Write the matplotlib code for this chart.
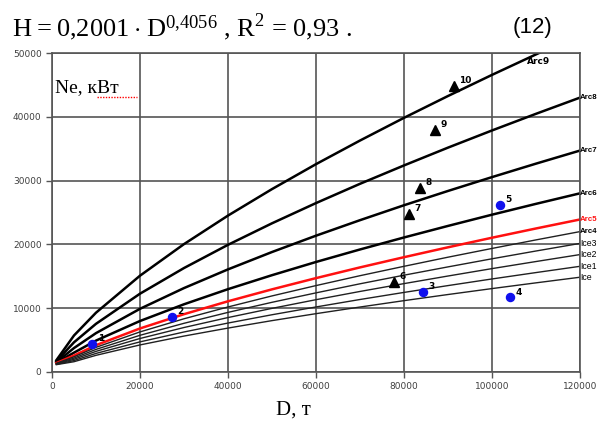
import matplotlib.pyplot as plt

plt.rcParams['mathtext.fontset'] = 'custom'
plt.rcParams['mathtext.rm'] = 'Liberation Serif'

# displacement D, t
D = [1000, 5000, 10000, 20000, 30000, 40000, 50000, 60000, 70000,
     80000, 90000, 100000, 110000, 120000]

# engine power curves by ice class, kW
arc9 = [1850, 5720, 9290, 15090, 20040, 24510, 28660, 32570, 36270, 39830, 43250, 46560, 49770, 52900]
arc8 = [1700, 4650, 7550, 12270, 16290, 19930, 23300, 26470, 29490, 32370, 35160, 37850, 40460, 43000]
arc7 = [1550, 3750, 6090, 9900, 13150, 16080, 18800, 21360, 23790, 26130, 28370, 30540, 32650, 34700]
arc6 = [1450, 3030, 4920, 7990, 10610, 12980, 15170, 17240, 19200, 21080, 22890, 24650, 26350, 28000]
arc5 = [1400, 2580, 4200, 6820, 9060, 11080, 12950, 14710, 16390, 17990, 19540, 21040, 22490, 23900]
arc4 = [1350, 2380, 3860, 6280, 8340, 10190, 11920, 13540, 15090, 16560, 17990, 19360, 20700, 22000]
ice3 = [1300, 2180, 3540, 5750, 7630, 9340, 10920, 12400, 13820, 15170, 16470, 17740, 18960, 20150]
ice2 = [1250, 1990, 3230, 5250, 6970, 8530, 9970, 11330, 12620, 13850, 15040, 16200, 17310, 18400]
ice1 = [1200, 1790, 2910, 4720, 6270, 7670, 8970, 10190, 11360, 12470, 13540, 14580, 15580, 16560]
ice0 = [1150, 1610, 2610, 4240, 5630, 6880, 8050, 9140, 10180, 11180, 12140, 13070, 13970, 14850]

curves = [arc9, arc8, arc7, arc6, arc5, arc4, ice3, ice2, ice1, ice0]
names = ['Arc9', 'Arc8', 'Arc7', 'Arc6', 'Arc5', 'Arc4', 'Ice3', 'Ice2', 'Ice1', 'Ice']

# ships: blue dots and triangles
dot_ids = ['1', '2', '3', '4', '5']
dot_D = [9100, 27300, 84300, 104100, 101800]
dot_N = [4400, 8600, 12500, 11700, 26250]
tri_ids = ['6', '7', '8', '9', '10']
tri_D = [77700, 81100, 83600, 87000, 91300]
tri_N = [14100, 24800, 28900, 37950, 44800]

fig = plt.figure(figsize=(5.99, 4.23), dpi=100)
ax = fig.add_axes([0.0868, 0.1206, 0.8812, 0.7541])

for y, name in zip(curves, names):
    if name == 'Arc5':
        ax.plot(D, y, color='#ff1010', lw=1.8)
    elif name.startswith('Arc') and name != 'Arc4':
        ax.plot(D, y, color='black', lw=1.8)
    else:
        ax.plot(D, y, color='#202020', lw=1.0)
    if name == 'Arc9':
        ax.text(108000, 48700, name, fontsize=6.5, fontweight='bold', va='center')
    elif name.startswith('Arc'):
        ax.text(120100, y[-1], name, fontsize=5.7, fontweight='bold', va='center',
                family='Liberation Sans',
                color='#ff1010' if name == 'Arc5' else 'black', clip_on=False)
    else:
        ax.text(120100, y[-1], name, fontsize=6.3, va='center',
                family='Liberation Sans', clip_on=False)

ax.plot(dot_D, dot_N, 'o', color='#1010ee', ms=5.8, ls='none')
ax.plot(tri_D, tri_N, '^', color='black', ms=7.5, ls='none')
for i, x, y in zip(dot_ids + tri_ids, dot_D + tri_D, dot_N + tri_N):
    ax.annotate(i, (x, y), xytext=(4, 2), textcoords='offset points',
                fontsize=6.5, fontweight='bold')

ax.set_xlim(0, 120000)
ax.set_ylim(0, 50000)
ax.set_xticks(range(0, 120001, 20000))
ax.set_yticks(range(0, 50001, 10000))
ax.grid(True, color='#555555', lw=1.2)
for s in ax.spines.values():
    s.set_color('#555555')
    s.set_linewidth(1.2)
ax.tick_params(labelsize=6.5, labelcolor='#404040', color='#555555', length=4, width=1)

# y-axis title inside the plot, with the spell-check squiggle under кВт
ax.text(700, 43900, 'Ne, кВт', fontsize=14, family='Liberation Serif')
ax.plot([10300, 19400], [43100, 43100], color='red', lw=1, ls=(0, (1, 1)))

fig.text(0.49, 0.02, 'D, т', fontsize=15, family='Liberation Serif', ha='center')
fig.text(0.02, 0.935, r'$\mathrm{H = 0{,}2001 \cdot D^{0{,}4056}}$ , R$^2$ = 0,93 .',
         fontsize=19, family='Liberation Serif', va='center')
fig.text(0.855, 0.935, '(12)', fontsize=16, family='Liberation Sans', va='center')

fig.savefig('out.png', dpi=100)
